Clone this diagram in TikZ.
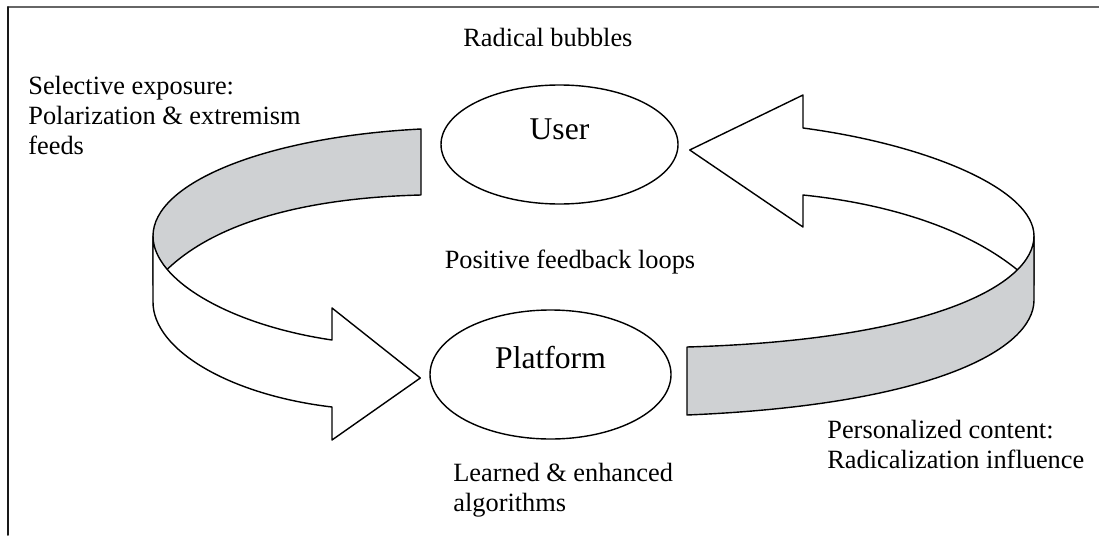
\documentclass[tikz,border=0pt]{standalone}
\usepackage{fontspec}
\setmainfont{Liberation Serif}
\usetikzlibrary{shapes.geometric}
\definecolor{bandgray}{RGB}{207,209,211}
\begin{document}
\begin{tikzpicture}[line cap=round, line join=round,
    bubble/.style={draw, ellipse, line width=0.8pt, inner sep=0pt},
    ribbon/.style={draw, line width=0.8pt},
    note/.style={font=\fontsize{15}{17}\selectfont, inner sep=0pt}]
  \useasboundingbox (0,0) rectangle (21.98,10.70);
  \draw[black!60, line width=1.2pt] (0.16,10.56) -- (21.98,10.56);
  \draw[black!90, line width=1.1pt] (0.16,10.56) -- (0.16,0);
  % the two actors
  \node[bubble, minimum width=4.74cm, minimum height=2.38cm,
    label={[yshift=0.30cm, font=\fontsize{18}{21}\selectfont]center:User}] (user) at (11.19,7.81) {};
  \node[bubble, minimum width=4.82cm, minimum height=2.58cm,
    label={[yshift=0.33cm, font=\fontsize{18}{21}\selectfont]center:Platform}] (platform) at (11.01,3.21) {};
  % left ribbon, back side then front side
  \path[ribbon, fill=bandgray] (8.42,8.12) .. controls (5.30,7.96) and (3.06,7.04) .. (3.06,5.98) -- (3.06,5.00)
    .. controls (4.00,6.20) and (6.00,6.74) .. (8.42,6.80) -- cycle;
  \path[ribbon, fill=white] (3.06,5.98) .. controls (3.06,5.10) and (4.60,4.20) .. (6.64,3.90) -- (6.64,4.54)
    -- ([xshift=-0.18cm, yshift=-0.07cm]platform.west) -- (6.64,1.90) -- (6.64,2.56)
    .. controls (4.60,2.80) and (3.06,3.70) .. (3.06,4.66) -- cycle;
  % right ribbon, back side then front side
  \path[ribbon, fill=white] (16.06,8.14) .. controls (18.60,7.80) and (20.68,6.90) .. (20.68,5.98) -- (20.68,5.00)
    .. controls (19.70,6.00) and (18.00,6.60) .. (16.06,6.80) -- (16.06,6.16)
    -- ([xshift=0.22cm, yshift=-0.11cm]user.east) -- (16.06,8.80) -- cycle;
  \path[ribbon, fill=bandgray] (20.68,5.98) .. controls (20.68,5.00) and (18.60,3.90) .. (13.74,3.76) -- (13.74,2.40)
    .. controls (18.60,2.60) and (20.68,3.70) .. (20.68,4.70) -- cycle;
  % labels (base of a multi-line note is its last line)
  \node[note, anchor=base west] (bubbles) at (9.26,9.76) {Radical bubbles};
  \node[note, anchor=base west, align=left] (exposure) at (0.56,7.62) {Selective exposure:\\Polarization \& extremism\\feeds};
  \node[note, anchor=base] (loops) at (11.40,5.34) {Positive feedback loops};
  \node[note, anchor=base west, align=left] (learned) at (9.06,0.48) {Learned \& enhanced\\algorithms};
  \node[note, anchor=base west, align=left] (content) at (16.54,1.34) {Personalized content:\\Radicalization influence};
\end{tikzpicture}
\end{document}
